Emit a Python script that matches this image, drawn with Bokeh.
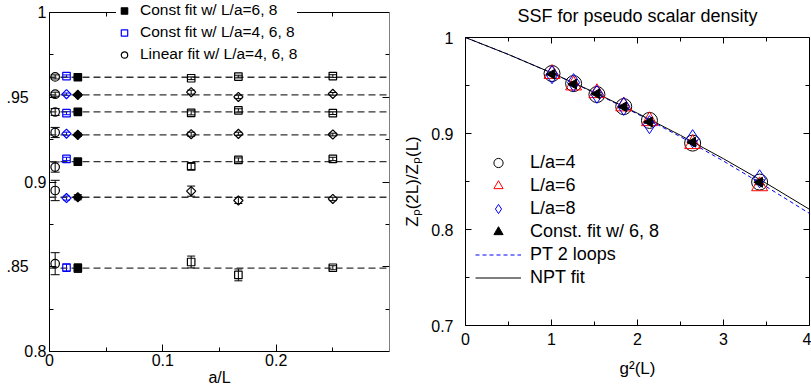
import math
from bokeh.plotting import figure
from bokeh.models import (ColumnDataSource, Whisker, TeeHead, FixedTicker, LinearAxis,
                          Legend, LegendItem, Range1d, CustomJSTickFormatter)
from bokeh.layouts import row
from bokeh.embed import file_html
from bokeh.resources import INLINE

FONT = "Liberation Sans"
NB = "\u00a0"

# ---------------- data ----------------
L_lat = [8, 6, 4]                      # L/a of the lattices
g2 = [1.006, 1.257, 1.528, 1.840, 2.139, 2.641, 3.420]

val_L8 = [0.9612, 0.9530, 0.9408, 0.9282, 0.9092, 0.8946, 0.8528]
err_L8 = [0.0008, 0.0012, 0.0012, 0.0012, 0.0018, 0.0030, 0.0035]
val_L6 = [0.9622, 0.9502, 0.9422, 0.9284, 0.9130, 0.8891, 0.8452]
err_L6 = [0.0008, 0.0010, 0.0010, 0.0010, 0.0012, 0.0018, 0.0035]
val_L4 = [0.9625, 0.9520, 0.9406, 0.9280, 0.9136, 0.8900, 0.8494]
err_L4 = [0.0008, 0.0008, 0.0008, 0.0008, 0.0010, 0.0010, 0.0012]

const68 = [0.9618, 0.9514, 0.9414, 0.9278, 0.9120, 0.8910, 0.8492]
const68_err = [0.0008, 0.0008, 0.0010, 0.0010, 0.0012, 0.0015, 0.0025]
const468 = [0.9625, 0.9518, 0.9406, 0.9285, 0.9136, 0.8905, 0.8495]
const468_err = [0.0007, 0.0007, 0.0009, 0.0009, 0.0010, 0.0012, 0.0020]
linear = [0.9620, 0.9518, 0.9413, 0.9292, 0.9088, 0.8950, 0.8518]
linear_err = [0.0012, 0.0012, 0.0020, 0.0030, 0.0030, 0.0060, 0.0065]

# extrapolated values are drawn slightly offset from a/L = 0
x_linear = 0.005
x_const468 = 0.015
x_const68 = 0.025
fit_line_x = [0.0, 0.3]

curve_g2 = [0.0, 0.5, 1.0, 1.5, 2.0, 2.5, 3.0, 3.5, 4.0]
npt_fit = [1.0, 0.9823, 0.9632, 0.9428, 0.9211, 0.8981, 0.8737, 0.8480, 0.8210]
pt_2loop = [1.0, 0.9823, 0.9631, 0.9424, 0.9203, 0.8966, 0.8713, 0.8445, 0.8167]

left_xticks = [0.0, 0.1, 0.2]
left_xlabels = ["0", "0.1", "0.2"]
left_xminor = [0.05, 0.15, 0.25]
left_yticks = [0.8, 0.85, 0.9, 0.95, 1.0]
left_ylabels = ["0.8", ".85" + NB * 4, "0.9", ".95" + NB * 4, "1"]
left_yminor = [0.825, 0.875, 0.925, 0.975]
right_xticks = [0, 1, 2, 3, 4]
right_xlabels = ["0", "1", "2", "3", "4"]
right_xminor = [0.5, 1.5, 2.5, 3.5]
right_yticks = [0.7, 0.8, 0.9, 1.0]
right_ylabels = ["0.7", "0.8", "0.9", "1"]
right_yminor = [0.75, 0.85, 0.95]

# ---------------- styles ----------------
ROW_SHAPES = ["square", "diamond", "square", "diamond", "square", "diamond", "square"]
BLUE = "#0000ff"
RED = "#ff0000"
# the left panel's box spans 0.8..1.0; a little headroom above it hosts the legend
LEFT_BOX = (0.8, 1.0)
LEFT_TOP_ROOM = 1.00708


def shape_cols(sq_size, dia_size):
    m, a, s = [], [], []
    for sh in ROW_SHAPES:
        m.append("square")
        if sh == "square":
            a.append(0.0); s.append(sq_size)
        else:
            a.append(math.pi / 4); s.append(dia_size)
    return m, a, s


def fmt(ticks, labels):
    return CustomJSTickFormatter(args=dict(t=ticks, l=labels), code="""
        for (let i = 0; i < t.length; i++) { if (Math.abs(t[i] - tick) < 1e-9) return l[i]; }
        return "";
    """)


def style_axis(ax, ticks, minor, labels, tick_in=7, minor_in=4, fs="16px", standoff=3, show=True):
    ax.ticker = FixedTicker(ticks=ticks, minor_ticks=minor)
    ax.axis_line_color = "black"
    ax.major_tick_in = tick_in
    ax.major_tick_out = 0
    ax.minor_tick_in = minor_in
    ax.minor_tick_out = 0
    ax.major_tick_line_color = "black"
    ax.minor_tick_line_color = "black"
    ax.axis_label_text_font = FONT
    ax.axis_label_text_font_style = "normal"
    ax.axis_label_text_color = "black"
    if show:
        ax.formatter = fmt(ticks, labels)
        ax.major_label_text_font = FONT
        ax.major_label_text_font_size = fs
        ax.major_label_text_color = "black"
        ax.major_label_standoff = standoff
    else:
        ax.formatter = fmt(ticks, [""] * len(ticks))
        ax.major_label_text_font_size = "0px"
        ax.major_label_standoff = 0


def errsrc(x, y, e, **extra):
    d = dict(x=x, y=y, upper=[a + b for a, b in zip(y, e)], lower=[a - b for a, b in zip(y, e)])
    d.update(extra)
    return ColumnDataSource(d)


def add_whisker(p, src, color="black", head=8):
    w = Whisker(source=src, base="x", upper="upper", lower="lower", line_color=color, line_width=1,
                upper_head=TeeHead(size=head, line_color=color, line_width=1),
                lower_head=TeeHead(size=head, line_color=color, line_width=1))
    p.add_layout(w)


# ---------------- left plot ----------------
left = figure(width=400, height=390, x_range=Range1d(0, 0.3), y_range=Range1d(LEFT_BOX[0], LEFT_TOP_ROOM),
              output_backend="svg", toolbar_location=None, frame_align=False,
              min_border_left=49, min_border_right=11, min_border_top=0, min_border_bottom=39)
left.grid.grid_line_color = None
left.outline_line_color = None
left.background_fill_color = "white"
left.border_fill_color = "white"
style_axis(left.xaxis[0], left_xticks, left_xminor, left_xlabels, standoff=2)
style_axis(left.yaxis[0], left_yticks, left_yminor, left_ylabels, standoff=3)
left.yaxis[0].bounds = LEFT_BOX
left.xaxis[0].axis_label = "a/L"
left.xaxis[0].axis_label_text_font_size = "16px"
left.xaxis[0].axis_label_standoff = 0
ax_top = LinearAxis(fixed_location=LEFT_BOX[1])
style_axis(ax_top, left_xticks, left_xminor, left_xlabels, show=False)
left.add_layout(ax_top, "above")
ax_right = LinearAxis(fixed_location=0.3, bounds=LEFT_BOX)
style_axis(ax_right, left_yticks, left_yminor, left_ylabels, show=False)
left.add_layout(ax_right, "right")

# dashed constant-fit lines
for v in const68:
    left.line(fit_line_x, [v, v], line_color="#333333", line_width=1.4, line_dash="7 4")

mk, an, sz = shape_cols(7.5, 6.5)
lat_x, lat_y, lat_e, lat_m, lat_a, lat_s = [], [], [], [], [], []
for La, vals, errs in zip(L_lat, [val_L8, val_L6, val_L4], [err_L8, err_L6, err_L4]):
    lat_x += [1.0 / La] * len(vals)
    lat_y += vals
    lat_e += errs
    lat_m += mk; lat_a += an; lat_s += sz
lat_src = errsrc(lat_x, lat_y, lat_e, marker=lat_m, angle=lat_a, size=lat_s)
add_whisker(left, lat_src, head=8)
left.scatter("x", "y", source=lat_src, marker="marker", angle="angle", size="size",
             fill_color=None, line_color="black", line_width=1.2)

lin_src = errsrc([x_linear] * len(linear), linear, linear_err)
add_whisker(left, lin_src, head=9)
r_lin = left.scatter("x", "y", source=lin_src, marker="circle", size=8.5,
                     fill_color=None, line_color="black", line_width=1.2)

c468_src = errsrc([x_const468] * len(const468), const468, const468_err, marker=mk, angle=an, size=sz)
add_whisker(left, c468_src, color=BLUE, head=7)
r_468 = left.scatter("x", "y", source=c468_src, marker="marker", angle="angle", size="size",
                     fill_color=None, line_color=BLUE, line_width=1.2)

c68_src = errsrc([x_const68] * len(const68), const68, const68_err, marker=mk, angle=an, size=sz)
add_whisker(left, c68_src, head=8)
r_68 = left.scatter("x", "y", source=c68_src, marker="marker", angle="angle", size="size",
                    fill_color="black", line_color="black", line_width=1.2)

leg_l = Legend(items=[LegendItem(label="Const fit w/ L/a=6, 8", renderers=[r_68], index=0),
                      LegendItem(label="Const fit w/ L/a=4, 6, 8", renderers=[r_468], index=0),
                      LegendItem(label="Linear fit w/ L/a=4, 6, 8", renderers=[r_lin], index=0)],
               location=(67, 288), margin=0, padding=2, spacing=4,
               glyph_width=16, glyph_height=17, label_height=17, label_standoff=8,
               label_text_font=FONT, label_text_font_size="15.5px", label_text_color="black",
               background_fill_color="white", background_fill_alpha=1.0, border_line_color=None)
left.add_layout(leg_l, "center")

# ---------------- right plot ----------------
right = figure(width=411, height=390, x_range=Range1d(0, 4), y_range=Range1d(0.7, 1.0),
               output_backend="svg", toolbar_location=None, frame_align=False,
               min_border_left=63, min_border_right=2, min_border_top=37, min_border_bottom=65)
right.grid.grid_line_color = None
right.outline_line_color = "black"
right.background_fill_color = "white"
right.border_fill_color = "white"
right.title.text = "SSF for pseudo scalar density"
right.title.align = "center"
right.title.text_font = FONT
right.title.text_font_size = "18px"
right.title.text_font_style = "normal"
right.title.text_color = "black"
right.title.standoff = 0
right.title.padding = dict(left=0, right=0, top=0, bottom=12)
style_axis(right.xaxis[0], right_xticks, right_xminor, right_xlabels, tick_in=6, minor_in=4, standoff=7)
style_axis(right.yaxis[0], right_yticks, right_yminor, right_ylabels, tick_in=6, minor_in=4, standoff=12)
right.xaxis[0].axis_label = "g\u00b2(L)"
right.xaxis[0].axis_label_text_font_size = "17px"
right.xaxis[0].axis_label_standoff = 11
right.yaxis[0].axis_label = "Z\u209a(2L)/Z\u209a(L)"
right.yaxis[0].axis_label_text_font_size = "17px"
right.yaxis[0].axis_label_standoff = 6
ax_top2 = LinearAxis(fixed_location=1.0)
style_axis(ax_top2, right_xticks, right_xminor, right_xlabels, tick_in=6, minor_in=4, show=False)
right.add_layout(ax_top2, "above")
ax_right2 = LinearAxis(fixed_location=4.0)
style_axis(ax_right2, right_yticks, right_yminor, right_ylabels, tick_in=6, minor_in=4, show=False)
right.add_layout(ax_right2, "right")

r_pt = right.line(curve_g2, pt_2loop, line_color=BLUE, line_width=1, line_dash="4 3")
r_npt = right.line(curve_g2, npt_fit, line_color="black", line_width=1)

r_c4 = right.scatter(g2, val_L4, marker="circle", size=16, fill_color=None, line_color="black", line_width=1)
r_c6 = right.scatter(g2, val_L6, marker="triangle", size=16, fill_color=None, line_color=RED, line_width=1)
r_c8 = right.scatter(g2, val_L8, marker="diamond", size=18, fill_color=None,
                     line_color=BLUE, line_width=1)
cf_src = errsrc(g2, const68, const68_err)
add_whisker(right, cf_src, head=10)
r_cf = right.scatter("x", "y", source=cf_src, marker="triangle", angle=math.pi / 2, size=10,
                     fill_color="black", line_color="black")

leg_r = Legend(items=[LegendItem(label="L/a=4", renderers=[r_c4]),
                      LegendItem(label="L/a=6", renderers=[r_c6]),
                      LegendItem(label="L/a=8", renderers=[r_c8]),
                      LegendItem(label="Const. fit w/ 6, 8", renderers=[r_cf]),
                      LegendItem(label="PT 2 loops", renderers=[r_pt]),
                      LegendItem(label="NPT fit", renderers=[r_npt])],
               location=(10, 36), margin=0, padding=0, spacing=0,
               glyph_width=46, glyph_height=23, label_height=23, label_standoff=9,
               label_text_font=FONT, label_text_font_size="18px", label_text_color="black",
               background_fill_alpha=0.0, border_line_color=None)
right.add_layout(leg_r, "center")

layout = row(left, right)
open("out.html", "w").write(file_html(layout, INLINE))
